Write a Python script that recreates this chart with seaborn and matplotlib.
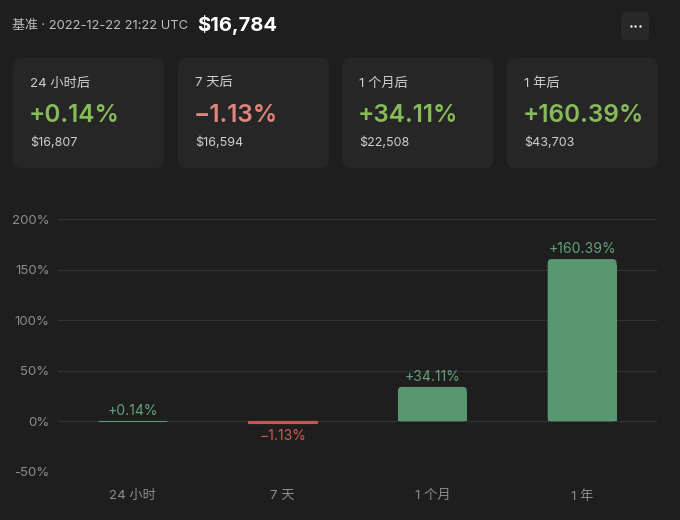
import matplotlib
matplotlib.use('Agg')
import matplotlib.pyplot as plt
from matplotlib.patches import FancyBboxPatch
import seaborn as sns
import pandas as pd

# data
periods = ['24 小时', '7 天', '1 个月', '1 年']
card_titles = ['24 小时后', '7 天后', '1 个月后', '1 年后']
changes = [0.14, -1.13, 34.11, 160.39]
prices = ['$16,807', '$16,594', '$22,508', '$43,703']
base_time = '2022-12-22 21:22 UTC'
base_price = '$16,784'
y_ticks = [-50, 0, 50, 100, 150, 200]

BG = '#1e1e1e'
CARD = '#262626'
POS_BAR = '#58976f'
NEG_BAR = '#c4574b'
POS_TXT = '#87bb58'
NEG_TXT = '#df857c'

sns.set_theme(style='dark')
plt.rcParams['font.family'] = ['Inter', 'Noto Sans CJK SC', 'DejaVu Sans']

df = pd.DataFrame({'period': periods, 'change': changes})
df['sign'] = ['pos' if c >= 0 else 'neg' for c in changes]

fig = plt.figure(figsize=(6.8, 5.2), dpi=100, facecolor=BG)

# background layer in pixel units
bg = fig.add_axes([0, 0, 1, 1], zorder=0)
bg.set_xlim(0, 680)
bg.set_ylim(520, 0)
bg.axis('off')
bg.set_facecolor(BG)

bg.text(12, 26, '基准 · ' + base_time, color='#bdbdbd', fontsize=9.3, va='center', ha='left')
bg.text(197, 25, base_price, color='white', fontsize=14.5, fontweight='bold', va='center', ha='left')

# menu button
bg.add_patch(FancyBboxPatch((621, 12), 28, 28, boxstyle='round,pad=0,rounding_size=5',
                            fc='#282828', ec='none'))
bg.plot([630.5, 635, 639.5], [26, 26, 26], 'o', color='white', markersize=1.7,
        markeredgewidth=0)

# stat cards
card_left = [13, 178, 342, 507]
for x0, title, chg, price in zip(card_left, card_titles, changes, prices):
    bg.add_patch(FancyBboxPatch((x0, 58), 151, 110, boxstyle='round,pad=0,rounding_size=9',
                                fc=CARD, ec='none'))
    col = POS_TXT if chg >= 0 else NEG_TXT
    txt = f'+{chg:.2f}%' if chg >= 0 else f'\u2212{abs(chg):.2f}%'
    bg.text(x0 + 17, 84, title, color='#d0d0d0', fontsize=9.5, va='center', ha='left')
    bg.text(x0 + 16, 116, txt, color=col, fontsize=17.5, fontweight='semibold',
            va='center', ha='left')
    bg.text(x0 + 17, 143, price, color='#d0d0d0', fontsize=9, va='center', ha='left')

# bar chart
ax = fig.add_axes([58 / 680, 48 / 520, 599 / 680, 253 / 520], zorder=1)
ax.set_facecolor('none')
sns.barplot(data=df, x='period', y='change', hue='sign',
            palette={'pos': POS_BAR, 'neg': NEG_BAR}, width=0.46,
            dodge=False, legend=False, ax=ax, saturation=1,
            edgecolor='none', linewidth=0)

ax.set_ylim(-50, 200)

# round the top corners of the taller bars, keep tiny ones visible as a thin line
rad_y = 4.0
rad_x = 4.0 / 149.75
for p in list(ax.patches):
    h = p.get_height()
    if h > 10:
        x, y, w = p.get_x(), p.get_y(), p.get_width()
        ax.add_patch(FancyBboxPatch((x, y), w, h,
                                    boxstyle=f'round,pad=0,rounding_size={rad_x}',
                                    mutation_aspect=rad_y / rad_x,
                                    fc=p.get_facecolor(), ec='none', zorder=p.get_zorder()))
        p.set_height(h - rad_y * 1.5)
    else:
        p.set_edgecolor(p.get_facecolor())
        p.set_linewidth(0.8)

ax.set_yticks(y_ticks)
ax.set_yticklabels([f'{t}%' for t in y_ticks])
ax.grid(axis='y', color='#333333', linewidth=0.9)
ax.grid(axis='x', visible=False)
ax.set_axisbelow(True)
for s in ax.spines.values():
    s.set_visible(False)
ax.set_xlabel('')
ax.set_ylabel('')
ax.tick_params(axis='y', colors='#8c8c8c', labelsize=9.5, length=0, pad=6)
ax.tick_params(axis='x', colors='#8c8c8c', labelsize=9.5, length=0, pad=13)

for i, chg in enumerate(changes):
    if chg >= 0:
        ax.text(i, chg + 3, f'+{chg:.2f}%', color='#62a37b', fontsize=10,
                ha='center', va='bottom')
    else:
        ax.text(i, chg - 6.5, f'\u2212{abs(chg):.2f}%', color='#d65a4c', fontsize=10,
                ha='center', va='top')

fig.savefig('out.png', dpi=100, facecolor=BG)
